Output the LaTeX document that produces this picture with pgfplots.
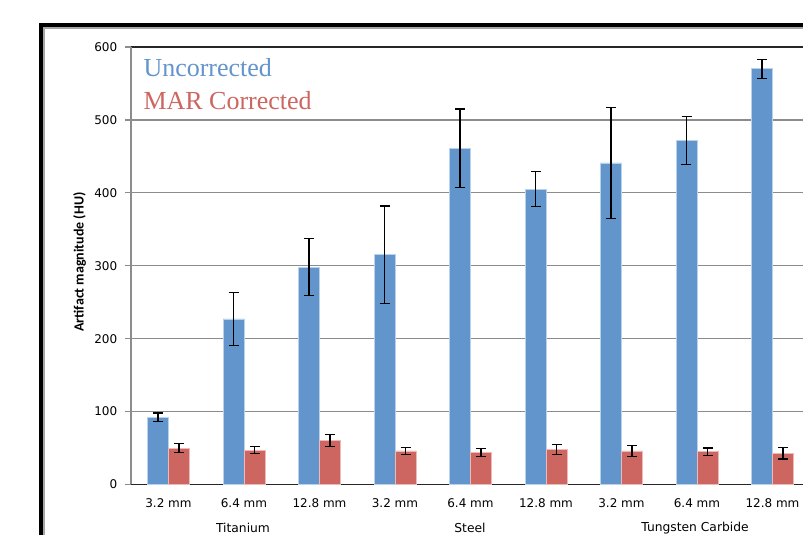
\documentclass[border=0pt]{standalone}
\usepackage{fontspec}
\usepackage{pgfplots}
\pgfplotsset{compat=1.18}
\setmainfont{DejaVu Sans}
\newfontfamily\legfont{Liberation Serif}
\newfontfamily\labfont{Carlito}
\definecolor{barblue}{RGB}{98,149,203}
\definecolor{edgeblue}{RGB}{185,210,236}
\definecolor{barred}{RGB}{205,102,97}
\definecolor{edgered}{RGB}{238,185,182}
\definecolor{gridgray}{RGB}{140,140,140}
\begin{document}
\begin{tikzpicture}[x=1pt,y=1pt]
\path[use as bounding box] (0,0) rectangle (803,535);
\clip (0,0) rectangle (803,535);
\fill[white] (0,0) rectangle (803,535);
% frame
\draw[black, line width=4pt] (41.2,-20) -- (41.2,509.7) -- (830,509.7);
\draw[black!35, line width=2pt] (44.4,-20) -- (44.4,506.5) -- (830,506.5);
\begin{axis}[
  at={(130.75pt,50.5pt)}, anchor=south west,
  scale only axis, width=679.5pt, height=437.5pt,
  ymin=0, ymax=600, ytick={0,100,...,600},
  xmin=-0.5, xmax=8.5, xtick={0,...,8},
  xticklabels={3.2 mm,6.4 mm,12.8 mm,3.2 mm,6.4 mm,12.8 mm,3.2 mm,6.4 mm,12.8 mm},
  /pgf/number format/assume math mode=true,
  tick label style={font=\fontsize{12}{14}\selectfont},
  yticklabel style={xshift=-4pt},
  xticklabel style={yshift=-4.5pt},
  x tick style={draw=none},
  y tick style={gridgray, line width=1.2pt},
  tick align=outside, major tick length=6pt,
  ymajorgrids, grid style={gridgray, line width=1.2pt},
  separate axis lines,
  x axis line style={black!85, line width=1.3pt},
  y axis line style={gridgray, line width=1.5pt},
  ybar=0pt, bar width=21pt,
]
\addplot[fill=barblue, draw=edgeblue, line width=0.8pt,
  error bars/.cd, y dir=both, y explicit,
  error bar style={black, line width=1.1pt},
  error mark options={rotate=90, mark size=5pt, black, line width=1.1pt}]
coordinates {
(0,92) +- (0,6)
(1,227) +- (0,36)
(2,298) +- (0,39)
(3,315) +- (0,67)
(4,461) +- (0,54)
(5,405) +- (0,24)
(6,441) +- (0,76)
(7,472) +- (0,33)
(8,570) +- (0,13)
};
\addplot[fill=barred, draw=edgered, line width=0.8pt,
  error bars/.cd, y dir=both, y explicit,
  error bar style={black, line width=1.1pt},
  error mark options={rotate=90, mark size=5pt, black, line width=1.1pt}]
coordinates {
(0,50) +- (0,6)
(1,47) +- (0,5)
(2,60) +- (0,8)
(3,46) +- (0,5)
(4,44) +- (0,5)
(5,48) +- (0,7)
(6,46) +- (0,8)
(7,45) +- (0,5)
(8,43) +- (0,8)
};
\end{axis}
% legend text
\node[anchor=base west, inner sep=0pt, text=barblue, font=\legfont\fontsize{26}{30}\selectfont] at (143.3,458) {Uncorrected};
\node[anchor=base west, inner sep=0pt, text=barred, font=\legfont\fontsize{26}{30}\selectfont] at (143.3,425.7) {MAR Corrected};
% y label
\node[rotate=90, inner sep=0pt, font=\labfont\bfseries\fontsize{14}{16}\selectfont] at (79.5,273) {Artifact magnitude (HU)};
% group labels
\node[font=\fontsize{12.3}{14}\selectfont, inner sep=0pt] at (243,7) {Titanium};
\node[font=\fontsize{12.3}{14}\selectfont, inner sep=0pt] at (470,7) {Steel};
\node[font=\fontsize{12.3}{14}\selectfont, inner sep=0pt] at (695,7) {Tungsten Carbide};
\end{tikzpicture}
\end{document}
